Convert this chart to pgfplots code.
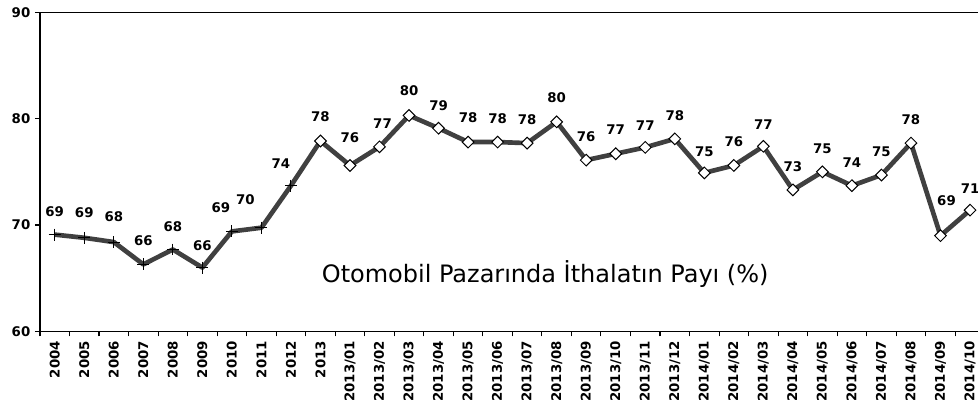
\documentclass[border=0pt]{standalone}
\usepackage{pgfplots}
\pgfplotsset{compat=1.18}
\usepackage{pgfplotstable}
\usepackage{fontspec}
\setmainfont{DejaVu Sans}
\definecolor{linegray}{HTML}{404040}

\pgfplotstableread{
x y lab dx up
0 69.1 69 0 23
1 68.8 69 0 25
2 68.4 68 0 25
3 66.3 66 0 24
4 67.7 68 0 23
5 66.0 66 0 22
6 69.4 69 -11 24
7 69.75 70 -16 28
8 73.7 74 -10 22
9 77.9 78 0 24
10 75.6 76 0 28
11 77.35 77 3 23
12 80.3 80 0 25
13 79.1 79 0 23
14 77.8 78 0 24
15 77.8 78 0 23
16 77.7 78 0 23
17 79.7 80 0 24
18 76.1 76 0 23
19 76.7 77 0 24
20 77.3 77 0 22
21 78.1 78 0 23
22 74.9 75 0 21
23 75.6 76 0 24
24 77.4 77 0 22
25 73.3 73 0 23
26 75.0 75 0 23
27 73.7 74 0 23
28 74.7 75 0 23
29 77.7 78 0 23
30 69.0 69 6 35
31 71.4 71 0 22
}\data

\begin{document}
\begin{tikzpicture}
\begin{axis}[
  scale only axis,
  width=703.9pt, height=239.5pt,
  xmin=-0.5, xmax=31.27, ymin=60, ymax=90,
  clip=false,
  axis x line*=box, axis y line*=left,
  axis line style={line width=1pt, black},
  xtick={0,...,31},
  xticklabels={2004,2005,2006,2007,2008,2009,2010,2011,2012,2013,2013/01,2013/02,2013/03,2013/04,2013/05,2013/06,2013/07,2013/08,2013/09,2013/10,2013/11,2013/12,2014/01,2014/02,2014/03,2014/04,2014/05,2014/06,2014/07,2014/08,2014/09,2014/10},
  minor xtick={-0.5,0.5,...,30.5},
  every major x tick/.append style={draw=none},
  ytick={60,70,80,90},
  tick align=outside,
  xtick pos=bottom, ytick pos=left,
  major tick length=3.75pt, minor tick length=3.75pt,
  every tick/.append style={black, line width=0.8pt},
  /pgf/number format/assume math mode=true,
  yticklabel style={font=\bfseries\fontsize{10}{12}\selectfont},
  xticklabel style={rotate=90, anchor=east, font=\bfseries\fontsize{10}{12}\selectfont},
]
\addplot[linegray, line width=3.5pt, line join=round, no marks,
  point meta=explicit symbolic,
  visualization depends on={\thisrow{dx}\as\dx},
  visualization depends on={\thisrow{up}\as\up},
  nodes near coords,
  nodes near coords style={anchor=center, font=\bfseries\fontsize{10}{12}\selectfont, text=black,
     xshift={0.75*(\dx)*1pt}, yshift={0.75*(\up)*1pt}},
] table[x=x, y=y, meta=lab] {\data};
\addplot[only marks, mark=+, mark size=4.5pt, mark options={black, line width=0.75pt},
  restrict x to domain=0:8] table[x=x, y=y] {\data};
\addplot[only marks, mark=square*, mark size=3.1pt,
  mark options={rotate=45, fill=white, draw=black, line width=0.75pt},
  restrict x to domain=9:31] table[x=x, y=y] {\data};
\node[font=\fontsize{18}{20}\selectfont, anchor=base] at (axis cs:16.61,64.58) {Otomobil Pazarında İthalatın Payı (\%)};
\end{axis}
\pgfresetboundingbox
\path ([xshift=-30pt,yshift=-61.7pt]current axis.south west) rectangle ([yshift=9.2pt]current axis.north east);
\end{tikzpicture}
\end{document}
